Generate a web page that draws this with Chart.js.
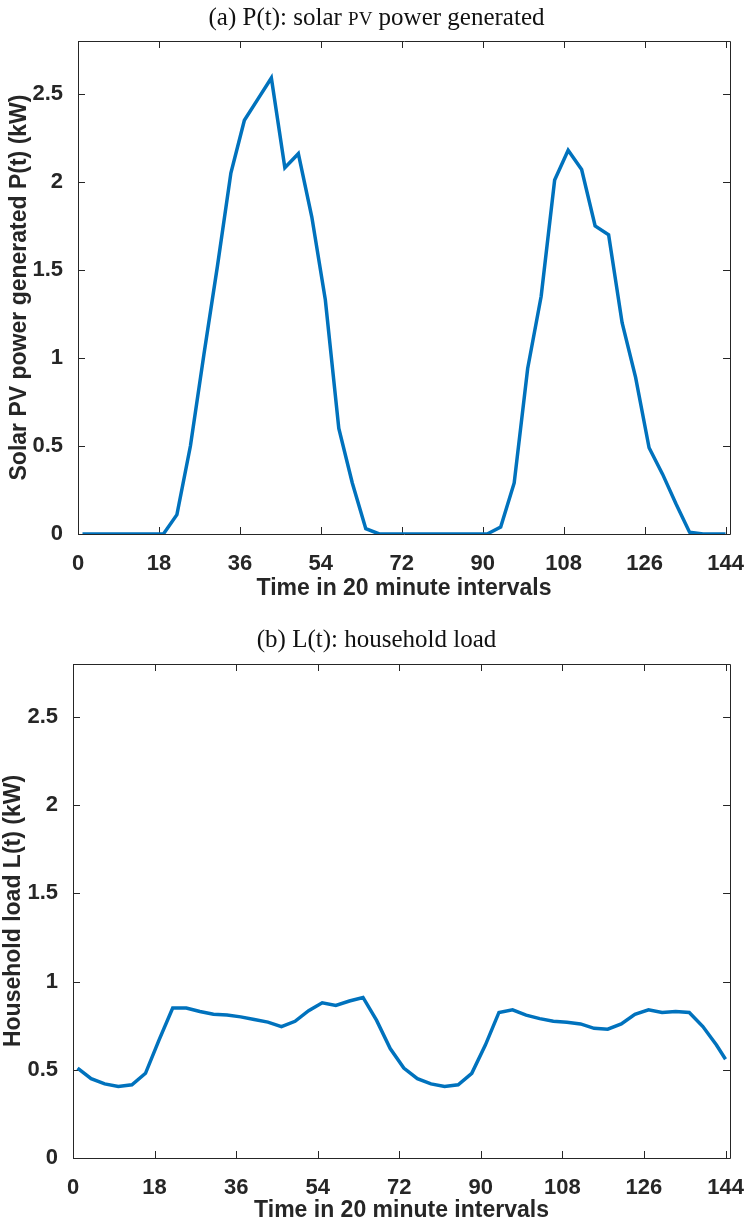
<!DOCTYPE html>
<html>
<head>
<meta charset="utf-8">
<script src="https://cdn.jsdelivr.net/npm/chart.js@4.4.1/dist/chart.umd.min.js"></script>
<style>
    html, body { margin: 0; padding: 0; background: #fff; }
    .wrap { position: relative; width: 753px; height: 612px; }
</style>
</head>
<body>
<div class="wrap"><canvas id="pvChart"></canvas></div>
<div class="wrap"><canvas id="loadChart"></canvas></div>
<script>
// Time steps (20 minute intervals) where the curves have vertices
const timeSteps = [1, 4, 7, 10, 13, 16, 19, 22, 25, 28, 31, 34, 37, 40, 43, 46, 49,
    52, 55, 58, 61, 64, 67, 70, 73, 76, 79, 82, 85, 88, 91, 94, 97, 100, 103, 106,
    109, 112, 115, 118, 121, 124, 127, 130, 133, 136, 139, 142, 144];

// (a) solar PV power generated, kW
const pvPower = [0, 0, 0, 0, 0, 0, 0, 0.11, 0.5, 1.02, 1.52, 2.05, 2.35, 2.47, 2.59,
    2.08, 2.16, 1.80, 1.33, 0.60, 0.29, 0.03, 0, 0, 0, 0, 0, 0, 0, 0, 0, 0.04, 0.29,
    0.94, 1.35, 2.01, 2.18, 2.07, 1.75, 1.70, 1.20, 0.89, 0.49, 0.34, 0.17, 0.01, 0,
    0, 0];

// (b) household load, kW
const householdLoad = [0.51, 0.45, 0.42, 0.405, 0.415, 0.48, 0.67, 0.85, 0.85, 0.83,
    0.815, 0.81, 0.80, 0.785, 0.77, 0.745, 0.775, 0.835, 0.88, 0.865, 0.89, 0.91, 0.78,
    0.62, 0.51, 0.45, 0.42, 0.405, 0.415, 0.48, 0.64, 0.825, 0.84, 0.81, 0.79, 0.775,
    0.77, 0.76, 0.735, 0.73, 0.76, 0.815, 0.84, 0.825, 0.83, 0.825, 0.745, 0.64, 0.56];

const xTicks = [0, 18, 36, 54, 72, 90, 108, 126, 144];
const yTicks = [0, 0.5, 1, 1.5, 2, 2.5];

const axisColor = "#262626";
const lineColor = "#0072BD";
const tickFont = { family: "'Liberation Sans Narrow', 'Liberation Sans', sans-serif", weight: "bold", size: 22 };
const labelFont = { family: "'Liberation Sans', sans-serif", weight: "bold", size: 23 };

// MATLAB style box with inward ticks on all four sides
const boxPlugin = {
    id: "matlabBox",
    beforeDatasetsDraw(chart) {
        const { ctx, chartArea: a, scales } = chart;
        const len = 7;
        ctx.save();
        ctx.strokeStyle = axisColor;
        ctx.lineWidth = 1;
        ctx.beginPath();
        ctx.rect(Math.round(a.left) + 0.5, Math.round(a.top) + 0.5,
            Math.round(a.right - a.left), Math.round(a.bottom - a.top));
        scales.x.ticks.forEach((t) => {
            const x = Math.round(scales.x.getPixelForValue(t.value)) + 0.5;
            ctx.moveTo(x, a.bottom); ctx.lineTo(x, a.bottom - len);
            ctx.moveTo(x, a.top); ctx.lineTo(x, a.top + len);
        });
        scales.y.ticks.forEach((t) => {
            const y = Math.round(scales.y.getPixelForValue(t.value)) + 0.5;
            ctx.moveTo(a.left, y); ctx.lineTo(a.left + len, y);
            ctx.moveTo(a.right, y); ctx.lineTo(a.right - len, y);
        });
        ctx.stroke();
        ctx.restore();
    },
};

// Serif panel title, "PV" drawn as small caps
const panelTitle = {
    id: "panelTitle",
    afterDraw(chart, args, opts) {
        const { ctx } = chart;
        const fam = "'Liberation Serif', 'DejaVu Serif', serif";
        ctx.save();
        ctx.fillStyle = "#111";
        ctx.textBaseline = "alphabetic";
        let total = 0;
        opts.parts.forEach((p) => {
            ctx.font = `${p[1]}px ${fam}`;
            total += ctx.measureText(p[0]).width;
        });
        let x = chart.width / 2 - total / 2;
        opts.parts.forEach((p) => {
            ctx.font = `${p[1]}px ${fam}`;
            ctx.fillText(p[0], x, opts.y);
            x += ctx.measureText(p[0]).width;
        });
        ctx.restore();
    },
};

function makeChart(id, values, cfg) {
    const points = timeSteps.map((t, i) => ({ x: t, y: values[i] }));
    return new Chart(document.getElementById(id), {
        type: "line",
        data: {
            datasets: [{
                data: points,
                borderColor: lineColor,
                borderWidth: 3.5,
                pointRadius: 0,
                tension: 0,
                fill: false,
            }],
        },
        options: {
            responsive: true,
            maintainAspectRatio: false,
            animation: false,
            layout: { padding: { top: cfg.top, right: cfg.right, left: 0, bottom: 0 } },
            plugins: {
                legend: { display: false },
                tooltip: { enabled: false },
                panelTitle: { parts: cfg.title, y: cfg.titleY },
            },
            scales: {
                x: {
                    type: "linear",
                    min: 0,
                    max: 145,
                    afterBuildTicks: (s) => { s.ticks = xTicks.map((v) => ({ value: v })); },
                    afterFit: (s) => { s.height = cfg.xHeight; },
                    grid: { display: false },
                    border: { display: false },
                    ticks: {
                        font: tickFont,
                        color: axisColor,
                        padding: 9,
                        maxRotation: 0,
                        autoSkip: false,
                        callback: (v) => String(v),
                    },
                    title: {
                        display: true,
                        text: "Time in 20 minute intervals",
                        font: labelFont,
                        color: axisColor,
                        padding: { top: 0, bottom: cfg.xTitlePad },
                    },
                },
                y: {
                    min: 0,
                    max: 2.8,
                    afterBuildTicks: (s) => { s.ticks = yTicks.map((v) => ({ value: v })); },
                    afterFit: (s) => { s.width = cfg.left; },
                    grid: { display: false },
                    border: { display: false },
                    ticks: {
                        font: tickFont,
                        color: axisColor,
                        padding: 7,
                        callback: (v) => String(v),
                    },
                    title: {
                        display: true,
                        text: cfg.yLabel,
                        font: labelFont,
                        color: axisColor,
                        padding: { top: cfg.yTitlePad, bottom: 0 },
                    },
                },
            },
        },
        plugins: [boxPlugin, panelTitle],
    });
}

makeChart("pvChart", pvPower, {
    top: 41, right: 17, left: 78, xHeight: 78, xTitlePad: 10, yTitlePad: 6, titleY: 25,
    yLabel: "Solar PV power generated P(t) (kW)",
    title: [["(a) P(t): solar ", 25], ["PV", 19], [" power generated", 25]],
});

makeChart("loadChart", householdLoad, {
    top: 52, right: 18, left: 73, xHeight: 66, xTitlePad: 0, yTitlePad: 0, titleY: 35,
    yLabel: "Household load L(t) (kW)",
    title: [["(b) L(t): household load", 25]],
});
</script>
</body>
</html>
